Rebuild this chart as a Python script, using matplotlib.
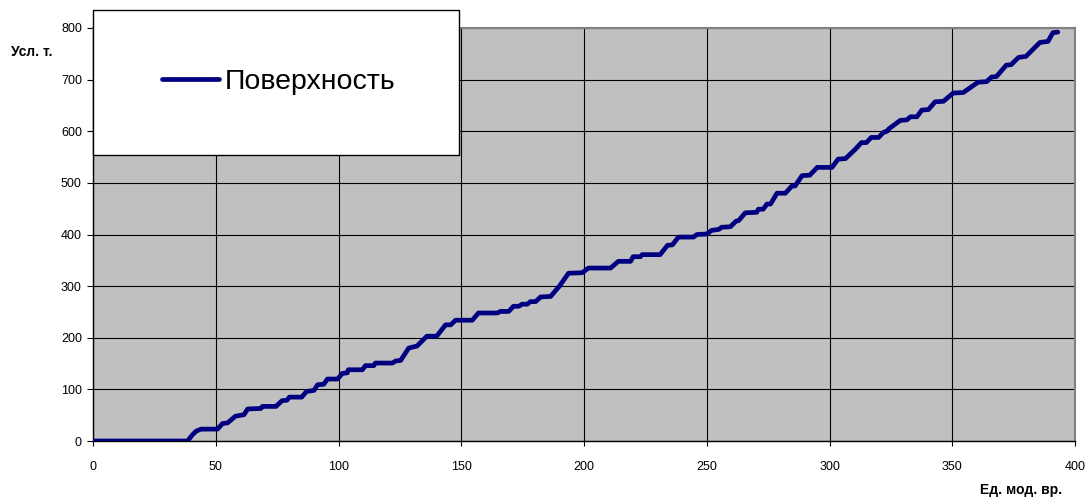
import matplotlib
matplotlib.use("Agg")
import matplotlib.pyplot as plt
from matplotlib.patches import Rectangle

plt.rcParams['font.family'] = ['Liberation Sans', 'DejaVu Sans']

### DATA ###
time_units = [0, 38.5, 40.5, 42, 44, 50.7, 52.8, 54.8, 58, 61.5, 63, 68.4, 69, 74.5,
              77, 79, 80, 85, 87, 90, 91.5, 94, 95.5, 99.6, 101.6, 103.6, 104, 109.7,
              111, 114.4, 115, 122, 123.3, 125.3, 128.6, 132, 136, 140, 143.6, 145.7,
              147.7, 154.5, 157, 164.7, 166, 169.3, 171.3, 173.5, 174.8, 176.9, 178.2,
              180.3, 182.3, 186.4, 190, 193.7, 199.3, 201.8, 210.8, 214, 219, 220, 223,
              223.7, 231, 234, 236, 238.5, 244.6, 246, 250, 252, 255, 256, 259.6, 262,
              263, 265.7, 270.4, 271, 273, 274.5, 276, 278.6, 282, 284.7, 286, 288.8,
              292, 295, 301, 303.5, 306.5, 310.5, 313, 315, 317, 320, 322, 323.5, 324,
              328.8, 331.5, 333, 335.6, 337.6, 340.3, 343, 346.4, 350.4, 354.5, 356,
              360.5, 364, 366, 368, 372, 374, 377, 380, 381.7, 385.7, 389, 391, 393]
surface = [0, 0, 12, 19, 23, 23, 34, 35, 48, 51, 62, 63, 67, 67,
           78, 79, 85, 85, 96, 98, 109, 110, 120, 120, 131, 132, 138, 138,
           146, 146, 151, 151, 155, 156, 180, 184, 203, 203, 225, 225,
           234, 234, 248, 248, 251, 251, 261, 261, 265, 265, 270,
           270, 279, 280, 300, 325, 326, 335, 335, 348, 348, 357, 357,
           361, 361, 379, 380, 395, 395, 400, 401, 408, 410, 414, 415, 426,
           427, 442, 443, 449, 449, 459, 459, 480, 480, 494, 494, 514,
           515, 530, 530, 546, 547, 565, 578, 578, 588, 588, 598, 600, 604,
           621, 622, 628, 628, 641, 642, 657, 658, 674, 675, 680,
           695, 696, 705, 706, 728, 729, 743, 745, 753, 772, 774, 791, 792]

series_name = "Поверхность"
x_label = "Ед. мод. вр."
y_label = "Усл. т."

fig = plt.figure(figsize=(10.92, 5.04), dpi=100)
ax = fig.add_axes([93 / 1092, 63 / 504, 982 / 1092, 413 / 504])
ax.set_facecolor("#C0C0C0")

line, = ax.plot(time_units, surface, color="#000080", lw=3.4,
                solid_capstyle="round", solid_joinstyle="round", zorder=3)

ax.set_xlim(0, 400)
ax.set_ylim(0, 800)
ax.set_xticks(range(0, 401, 50))
ax.set_yticks(range(0, 801, 100))
ax.grid(True, color="black", lw=0.8)
ax.set_axisbelow(True)

for s in ["left", "bottom"]:
    ax.spines[s].set_color("black")
    ax.spines[s].set_linewidth(1.0)
for s in ["top", "right"]:
    ax.spines[s].set_color("#808080")
    ax.spines[s].set_linewidth(1.5)

ax.tick_params(axis="x", direction="out", length=3.5, width=0.8, pad=11, labelsize=9)
ax.tick_params(axis="y", direction="out", length=4, width=0.8, pad=4, labelsize=9)

### LEGEND BOX ###
fig.add_artist(Rectangle((93 / 1092, 349 / 504), 366 / 1092, 145 / 504,
                         transform=fig.transFigure, facecolor="white",
                         edgecolor="black", lw=1.0, zorder=4))
fig.legend([line], [series_name], loc="center", bbox_to_anchor=(279 / 1092, 422 / 504),
           frameon=False, fontsize=20.5, handlelength=2.0, handletextpad=0.2)

fig.text(11 / 1092, 452 / 504, y_label, fontsize=10, fontweight="bold", va="center")
fig.text(1062 / 1092, 14 / 504, x_label, fontsize=10, fontweight="bold",
         ha="right", va="center")

fig.savefig("out.png", dpi=100)
